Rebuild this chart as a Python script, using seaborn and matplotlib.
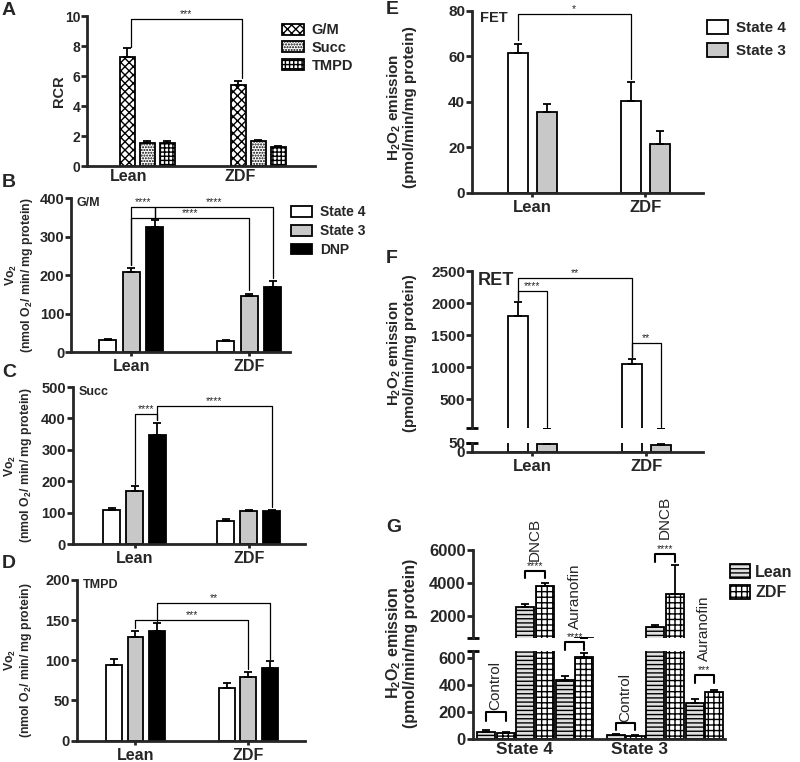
import numpy as np
import pandas as pd
import matplotlib
matplotlib.use("Agg")
import matplotlib.pyplot as plt
from matplotlib.patches import Patch
import seaborn as sns

sns.set_style("ticks")
plt.rcParams["font.family"] = ["Liberation Sans", "DejaVu Sans"]
plt.rcParams["font.weight"] = "bold"
plt.rcParams["axes.labelweight"] = "bold"
plt.rcParams["mathtext.fontset"] = "custom"
plt.rcParams["mathtext.rm"] = "Liberation Sans:bold"
plt.rcParams["mathtext.bf"] = "Liberation Sans:bold"
plt.rcParams["mathtext.it"] = "Liberation Sans:bold"
plt.rcParams["mathtext.default"] = "bf"
plt.rcParams["hatch.linewidth"] = 1.0

# ---- data ----
groups = ["Lean", "ZDF"]

# A: RCR per substrate
rcr_subs = ["G/M", "Succ", "TMPD"]
rcr_lean = [7.3, 1.55, 1.55]
rcr_lean_err = [0.55, 0.12, 0.12]
rcr_zdf = [5.4, 1.65, 1.25]
rcr_zdf_err = [0.3, 0.12, 0.1]

# B-D: Vo2
states = ["State 4", "State 3", "DNP"]
gm_lean = [31, 208, 325]
gm_lean_err = [2, 10, 18]
gm_zdf = [29, 145, 169]
gm_zdf_err = [2, 7, 15]

succ_lean = [108, 170, 347]
succ_lean_err = [7, 14, 40]
succ_zdf = [73, 105, 106]
succ_zdf_err = [6, 3, 3]

tmpd_lean = [94, 129, 137]
tmpd_lean_err = [7, 8, 9]
tmpd_zdf = [66, 79, 90]
tmpd_zdf_err = [6, 7, 9]

# E-F: H2O2 emission
h_states = ["State 4", "State 3"]
fet_lean = [61.5, 35.5]
fet_lean_err = [4, 3.5]
fet_zdf = [40.5, 21.5]
fet_zdf_err = [8, 5.5]

ret_lean = [1800, 42]
ret_lean_err = [220, 3]
ret_zdf = [1050, 38]
ret_zdf_err = [80, 4]

# G: inhibitors (Control, DNCB, Auranofin)
g_states = ["State 4", "State 3"]
g_treats = ["Control", "DNCB", "Auranofin"]
strains = ["Lean", "ZDF"]
g_lean_s4 = [55, 2550, 440]
g_lean_s4_err = [10, 150, 25]
g_zdf_s4 = [45, 3800, 610]
g_zdf_s4_err = [5, 200, 25]
g_lean_s3 = [30, 1330, 270]
g_lean_s3_err = [8, 100, 30]
g_zdf_s3 = [22, 3300, 345]
g_zdf_s3_err = [5, 1800, 20]

# significance brackets: (cond1, group1, cond2, group2, y of line, label)
b_brackets = [("State 3", "Lean", "DNP", "Lean", 377, "****"),
              ("DNP", "Lean", "DNP", "ZDF", 377, "****"),
              ("State 3", "Lean", "State 3", "ZDF", 348, "****")]
c_brackets = [("State 3", "Lean", "DNP", "Lean", 414, "****"),
              ("DNP", "Lean", "DNP", "ZDF", 440, "****")]
d_brackets = [("State 3", "Lean", "State 3", "ZDF", 150, "***"),
              ("DNP", "Lean", "DNP", "ZDF", 171, "**")]
e_brackets = [("State 4", "Lean", "State 4", "ZDF", 78.5, "*")]
f_brackets = [("State 4", "Lean", "State 4", "ZDF", 2390, "**"),
              ("State 4", "Lean", "State 3", "Lean", 2190, "****"),
              ("State 4", "ZDF", "State 3", "ZDF", 1380, "**")]
# G: (treatment, state, axis, line y, leg end y, stars, label y)
g_brackets = [("Control", "State 4", "bottom", 200, 135, "", 215),
              ("Control", "State 3", "bottom", 118, 65, "", 130),
              ("DNCB", "State 4", "top", 4720, 4300, "****", 5330),
              ("DNCB", "State 3", "top", 5760, 5270, "****", 6670),
              ("Auranofin", "State 4", "bottom", 716, 657, "****", 815),
              ("Auranofin", "State 3", "bottom", 473, 413, "***", 575)]


def make_df(grps, conds, vals, errs):
    rows = []
    for g, v_row, e_row in zip(grps, vals, errs):
        for c, v, e in zip(conds, v_row, e_row):
            rows.append({"group": g, "cond": c, "value": v, "err": e})
    return pd.DataFrame(rows)


def draw_bars(ax, df, order, hue_order, colors, hatches, width, gap, lw=1.3, capsize=3):
    sns.barplot(data=df, x="group", y="value", hue="cond", order=order, hue_order=hue_order,
                palette=colors, width=width, gap=gap, errorbar=None, saturation=1,
                edgecolor="black", linewidth=lw, legend=False, ax=ax)
    pos = {}
    for cont, cond, hatch in zip(ax.containers, hue_order, hatches):
        for bar, g in zip(cont, order):
            bar.set_hatch(hatch)
            pos[(cond, g)] = bar.get_x() + bar.get_width() / 2
    xs = [pos[(c, g)] for c, g in zip(df["cond"], df["group"])]
    ax.errorbar(xs, df["value"], yerr=[np.zeros(len(df)), df["err"]], fmt="none",
                ecolor="black", elinewidth=lw, capsize=capsize, capthick=lw, zorder=3)
    tops = {(c, g): v + e for c, g, v, e in zip(df["cond"], df["group"], df["value"], df["err"])}
    return pos, tops


def style(ax, ylim, yticks, xlim, yfs, xfs, xlen=3):
    ax.set_ylim(ylim)
    ax.set_yticks(yticks)
    ax.set_xlim(xlim)
    ax.set_xlabel("")
    ax.set_ylabel("")
    sns.despine(ax=ax)
    for s in ("left", "bottom"):
        ax.spines[s].set_linewidth(2)
    ax.tick_params(axis="y", width=2, length=4, labelsize=yfs, pad=1)
    ax.tick_params(axis="x", width=2, length=xlen, labelsize=xfs, pad=2)


def bracket(ax, pos, tops, spec, pad, fs=7.5):
    c1, g1, c2, g2, y, label = spec
    x1, x2 = pos[(c1, g1)], pos[(c2, g2)]
    ax.plot([x1, x1, x2, x2], [tops[(c1, g1)] + pad, y, y, tops[(c2, g2)] + pad],
            color="black", lw=0.9, clip_on=False, zorder=4)
    ax.text((x1 + x2) / 2, y, label, ha="center", va="bottom", fontsize=fs,
            fontweight="normal")


def break_cap(ax, y):
    ax.plot([0], [y], marker="_", ms=8, mew=2, color="black",
            transform=ax.transAxes, clip_on=False)


fig = plt.figure(figsize=(8, 7.62), dpi=100)
vo2_label = "Vo$_2$\n(nmol O$_2$/ min/ mg protein)"
h2o2_label = "H$_2$O$_2$ emission\n(pmol/min/mg protein)"
state_colors = ["white", "#c8c8c8", "black"]

# ---- A ----
axA = fig.add_axes([0.109, 0.782, 0.285, 0.197])
df_a = make_df(groups, rcr_subs, [rcr_lean, rcr_zdf], [rcr_lean_err, rcr_zdf_err])
a_hatches = ["xxxx", "......", "++++"]
draw_bars(axA, df_a, groups, rcr_subs, ["white"] * 3, a_hatches, 0.54, 0.25)
style(axA, (0, 10), [0, 2, 4, 6, 8, 10], (-0.54, 1.51), 10, 11.5, xlen=0)
axA.set_xticks([-0.17, 0.84], groups)
axA.set_ylabel("RCR", fontsize=10.5, va="center")
axA.yaxis.set_label_coords(-0.123, 0.5)
axA.plot([-0.15, -0.15, 0.85, 0.85], [7.95, 9.8, 9.8, 5.85], color="black", lw=0.9)
axA.text(0.35, 9.8, "***", ha="center", va="bottom", fontsize=7.5, fontweight="normal")
axA.legend([Patch(facecolor="white", edgecolor="black", hatch=h, lw=1.3) for h in a_hatches],
           rcr_subs, loc="upper left", bbox_to_anchor=(0.83, 0.99), frameon=False,
           fontsize=10.5, handlelength=1.5, handleheight=0.8, handletextpad=0.5,
           labelspacing=0.25, borderaxespad=0)

# ---- B, C, D ----
vo2_panels = [
    ([0.089, 0.538, 0.274, 0.202], gm_lean, gm_lean_err, gm_zdf, gm_zdf_err, (0, 400),
     [0, 100, 200, 300, 400], (-0.51, 1.35), 0.6, 0.28, "G/M", b_brackets, -0.237, 8),
    ([0.091, 0.286, 0.29, 0.206], succ_lean, succ_lean_err, succ_zdf, succ_zdf_err, (0, 500),
     [0, 100, 200, 300, 400, 500], (-0.54, 1.49), 0.6, 0.26, "Succ", c_brackets, -0.233, 8),
    ([0.096, 0.028, 0.285, 0.211], tmpd_lean, tmpd_lean_err, tmpd_zdf, tmpd_zdf_err, (0, 200),
     [0, 50, 100, 150, 200], (-0.52, 1.5), 0.58, 0.27, "TMPD", d_brackets, -0.254, 3),
]
for rect, lv, le, zv, ze, ylim, yt, xlim, w, gp, tag, brs, lx, pad in vo2_panels:
    ax = fig.add_axes(rect)
    df = make_df(groups, states, [lv, zv], [le, ze])
    pos, tops = draw_bars(ax, df, groups, states, state_colors, [None] * 3, w, gp)
    style(ax, ylim, yt, xlim, 10.5, 11.5)
    ax.set_ylabel(vo2_label, fontsize=8.8, va="center", linespacing=1.0)
    ax.yaxis.set_label_coords(lx, 0.5)
    ax.text(0.025, 0.97, tag, transform=ax.transAxes, ha="left", va="center", fontsize=9)
    for spec in brs:
        bracket(ax, pos, tops, spec, pad)
    if tag == "G/M":
        ax.legend([Patch(facecolor=c, edgecolor="black", lw=1.3) for c in state_colors], states,
                  loc="upper left", bbox_to_anchor=(0.977, 0.99), frameon=False, fontsize=10,
                  handlelength=1.5, handleheight=0.8, handletextpad=0.6, labelspacing=0.35,
                  borderaxespad=0)

# ---- E ----
axE = fig.add_axes([0.59, 0.747, 0.289, 0.239])
df_e = make_df(groups, h_states, [fet_lean, fet_zdf], [fet_lean_err, fet_zdf_err])
posE, topsE = draw_bars(axE, df_e, groups, h_states, state_colors[:2], [None] * 2, 0.513, 0.31)
style(axE, (0, 80), [0, 20, 40, 60, 80], (-0.53, 1.51), 11, 12)
axE.set_ylabel(h2o2_label, fontsize=11, va="center", linespacing=1.0)
axE.yaxis.set_label_coords(-0.305, 0.47)
axE.text(0.035, 0.96, "FET", transform=axE.transAxes, ha="left", va="center", fontsize=10.5)
for spec in e_brackets:
    bracket(axE, posE, topsE, spec, 1.5)
axE.legend([Patch(facecolor=c, edgecolor="black", lw=1.3) for c in state_colors[:2]], h_states,
           loc="upper left", bbox_to_anchor=(0.99, 0.98), frameon=False, fontsize=11,
           handlelength=1.4, handleheight=1.0, handletextpad=0.5, labelspacing=0.5,
           borderaxespad=0)

# ---- F (broken axis) ----
axFt = fig.add_axes([0.59, 0.438, 0.289, 0.206])
axFb = fig.add_axes([0.59, 0.407, 0.289, 0.0118])
df_f = make_df(groups, h_states, [ret_lean, ret_zdf], [ret_lean_err, ret_zdf_err])
for ax in (axFt, axFb):
    posF, topsF = draw_bars(ax, df_f, groups, h_states, state_colors[:2], [None] * 2, 0.513, 0.31)
style(axFt, (50, 2500), [500, 1000, 1500, 2000, 2500], (-0.53, 1.5), 11, 12)
style(axFb, (0, 50), [0, 50], (-0.53, 1.5), 11, 12)
axFt.spines["bottom"].set_visible(False)
axFt.tick_params(axis="x", length=0, labelbottom=False)
break_cap(axFt, 0)
break_cap(axFb, 1)
axFt.set_ylabel(h2o2_label, fontsize=10.8, va="center", linespacing=1.0)
axFt.yaxis.set_label_coords(-0.305, 0.48)
axFt.text(0.026, 0.94, "RET", transform=axFt.transAxes, ha="left", va="center", fontsize=13)
for spec in f_brackets:
    bracket(axFt, posF, topsF, spec, 25)

# ---- G (broken axis) ----
axGt = fig.add_axes([0.591, 0.163, 0.315, 0.1155])
axGb = fig.add_axes([0.591, 0.030, 0.315, 0.1155])
g_conds = [f"{t} {s}" for t in g_treats for s in strains]
g_vals = [[v for pair in zip(g_lean_s4, g_zdf_s4) for v in pair],
          [v for pair in zip(g_lean_s3, g_zdf_s3) for v in pair]]
g_errs = [[v for pair in zip(g_lean_s4_err, g_zdf_s4_err) for v in pair],
          [v for pair in zip(g_lean_s3_err, g_zdf_s3_err) for v in pair]]
df_g = make_df(g_states, g_conds, g_vals, g_errs)
g_colors = ["#e0e0e0", "white"] * 3
g_hatches = ["----", "+++"] * 3
for ax in (axGt, axGb):
    posG, topsG = draw_bars(ax, df_g, g_states, g_conds, g_colors, g_hatches, 0.91, 0.08)
style(axGt, (650, 6000), [2000, 4000, 6000], (-0.48, 1.46), 12, 12.5)
style(axGb, (0, 650), [0, 200, 400, 600], (-0.48, 1.46), 12, 12.5, xlen=0)
axGt.spines["bottom"].set_visible(False)
axGt.tick_params(axis="x", length=0, labelbottom=False)
axGb.set_xticks([-0.08, 0.8], g_states)
break_cap(axGt, 0)
break_cap(axGb, 1)
axGb.set_ylabel(h2o2_label, fontsize=11.5, va="center", linespacing=1.0)
axGb.yaxis.set_label_coords(-0.286, 1.09)
for treat, state, which, y, leg, stars, ytxt in g_brackets:
    ax = axGt if which == "top" else axGb
    x1, x2 = posG[(f"{treat} Lean", state)], posG[(f"{treat} ZDF", state)]
    ax.plot([x1, x1, x2, x2], [leg, y, y, leg], color="black", lw=1.5, clip_on=False)
    if stars:
        ax.text((x1 + x2) / 2, y, stars, ha="center", va="bottom", fontsize=7.5,
                fontweight="normal")
    ax.text((x1 + x2) / 2, ytxt, treat, rotation=90, ha="center", va="bottom",
            fontsize=11, fontweight="normal")
fig.legend([Patch(facecolor=c, edgecolor="black", hatch=h, lw=1.3)
            for c, h in zip(g_colors[:2], g_hatches[:2])], strains,
           loc="upper left", bbox_to_anchor=(0.905, 0.268), frameon=False, fontsize=11.5,
           handlelength=1.2, handleheight=1.0, handletextpad=0.35, labelspacing=0.3,
           borderaxespad=0)

# ---- panel letters ----
for letter, x, y in [("A", 2, 2), ("B", 2, 174), ("C", 2, 364), ("D", 2, 555),
                     ("E", 386, 1), ("F", 386, 250), ("G", 386, 519)]:
    fig.text(x / 800, 1 - y / 762, letter, ha="left", va="top", fontsize=14)

fig.savefig("out.png", dpi=100)
